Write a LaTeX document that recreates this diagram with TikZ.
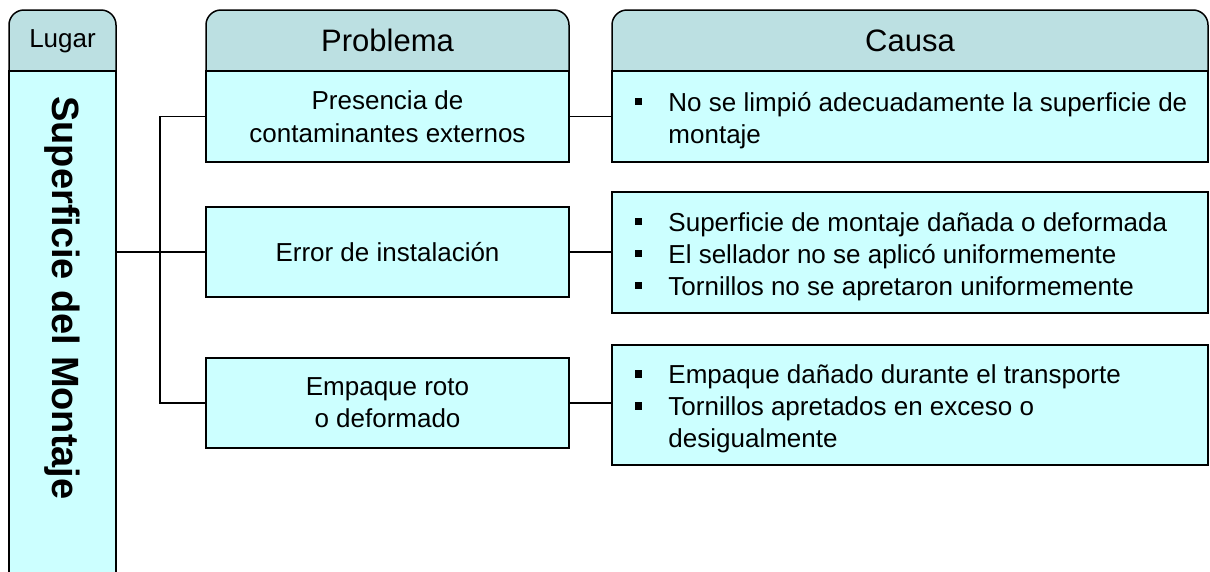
\documentclass[tikz,border=0pt]{standalone}
\usepackage{fontspec}
\setmainfont{Liberation Sans}
\usetikzlibrary{positioning}
\definecolor{headfill}{RGB}{188,224,226}
\definecolor{bodyfill}{RGB}{204,255,255}
\tikzset{
  head/.style={draw, fill=headfill, line width=1.5pt},
  headtext/.style={font=\fontsize{31}{36}\selectfont},
  box/.style={draw, fill=bodyfill, line width=1.5pt, inner sep=0pt, align=center, font=\fontsize{26}{32}\selectfont},
  cause/.style={anchor=west, inner sep=0pt, align=left, font=\fontsize{26}{32}\selectfont},
  link/.style={line width=1.5pt},
}
\newcommand{\bul}{\makebox[33pt][l]{\rule[6pt]{6.5pt}{7.5pt}}}

\begin{document}
\begin{tikzpicture}[x=1pt,y=-1pt]
\useasboundingbox (0,0) rectangle (1210,571);
% column heads
\draw[head, rounded corners=15pt] (9,71) -- (9,10) -- (116,10) [sharp corners] -- (116,71) -- cycle;
\draw[head, rounded corners=15pt] (206,71) -- (206,10) -- (569,10) [sharp corners] -- (569,71) -- cycle;
\draw[head, rounded corners=15pt] (612,71) -- (612,10) -- (1208,10) [sharp corners] -- (1208,71) -- cycle;
\node[font=\fontsize{26}{30}\selectfont] (lugarh) at (62.5,41.5) {Lugar};
\node[headtext] (probh) at (387.5,40.5) {Problema};
\node[headtext] (causah) at (910,40.5) {Causa};

% lugar
\node[box, minimum width=107pt, minimum height=506pt] (lugar) at (62.5,324) {};
\node[rotate=-90, font=\fontsize{38}{44}\selectfont\bfseries] (lugart) at (62.5,298) {Superficie del Montaje};

% problemas
\node[box, minimum width=363pt, minimum height=91pt] (p1) at (387.5,116.5) {Presencia de\\[1pt]contaminantes externos};
\node[box, minimum width=363pt, minimum height=90pt] (p2) at (387.5,252) {Error de instalación};
\node[box, minimum width=363pt, minimum height=90pt] (p3) at (387.5,403) {Empaque roto\\ o deformado};

% causas
\node[box, minimum width=596pt, minimum height=91pt] (c1) at (910,116.5) {};
\node[box, minimum width=596pt, minimum height=121pt] (c2) at (910,252.5) {};
\node[box, minimum width=596pt, minimum height=120pt] (c3) at (910,405) {};
\node[cause] (c1t) at ([xshift=24pt,yshift=-4pt]c1.west) {\bul No se limpió adecuadamente la superficie de\\\hspace*{33pt}montaje};
\node[cause] (c2t) at ([xshift=24pt,yshift=-4pt]c2.west) {\bul Superficie de montaje dañada o deformada\\\bul El sellador no se aplicó uniformemente\\\bul Tornillos no se apretaron uniformemente};
\node[cause] (c3t) at ([xshift=24pt,yshift=-4pt]c3.west) {\bul Empaque dañado durante el transporte\\\bul Tornillos apretados en exceso o\\\hspace*{33pt}desigualmente};

% conectores
\coordinate (jn) at (160,252);
\draw[link] (lugar.east |- jn) -- (jn) -- (p2.west);
\draw[link] (p1.west) -| (jn) |- (p3.west);
\draw[link] (p1.east) -- (c1.west);
\draw[link] (p2.east) -- (c2.west |- p2.east);
\draw[link] (p3.east) -- (c3.west |- p3.east);
\end{tikzpicture}
\end{document}
